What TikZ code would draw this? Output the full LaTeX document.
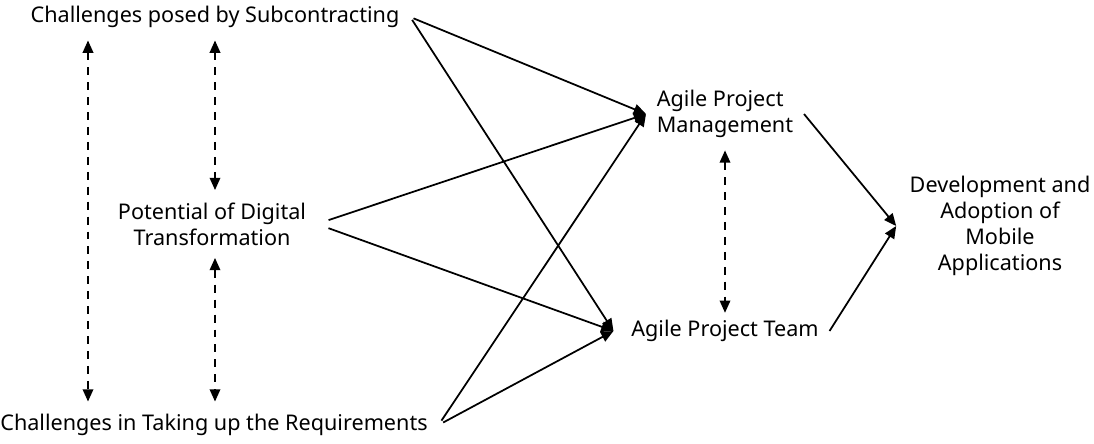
\documentclass[tikz,border=0pt]{standalone}
\usepackage{fontspec}
\setmainfont{Noto Sans}
\usepackage{tikz}
\usetikzlibrary{arrows.meta}

\begin{document}
\begin{tikzpicture}[x=0.02cm, y=-0.02cm]

                % Fixes the page to the full canvas
                \useasboundingbox (0, 0) rectangle (1094, 443);

                \tikzset{
                    factor/.style={font=\fontsize{12.3}{14.7}\selectfont, inner sep=6pt},
                    link/.style={line width=1pt, -{Triangle[length=7pt, width=6pt]}},
                    mutual/.style={line width=1pt, dash pattern=on 4.5pt off 4pt,
                        {Triangle[length=7pt, width=6pt]}-{Triangle[length=7pt, width=6pt]}}
                }

                % Influencing factors on the left
                \node (sub) at (215, 17) [factor] {Challenges posed by Subcontracting};
                \node (pot) at (212, 224) [factor, align=center] {Potential of Digital\\Transformation};
                \node (req) at (214, 425) [factor] {Challenges in Taking up the Requirements};

                % Agile approach in the middle
                \node (apm) at (725, 114) [factor, align=left] {Agile Project\\Management};
                \node (apt) at (725, 331) [factor] {Agile Project Team};

                % Outcome on the right
                \node (dev) at (1000, 226) [factor, align=center, inner sep=7.5pt]
                    {Development and\\Adoption of\\Mobile\\Applications};

                % Mutual relations between the factors
                \begin{scope}[shorten <=1pt, shorten >=1pt]
                    \draw[mutual] (sub.south -| 88, 0) -- (req.north -| 88, 0);
                    \draw[mutual] (sub.south) -- (sub.south |- pot.north);
                    \draw[mutual] (sub.south |- pot.south) -- (sub.south |- req.north);
                    \draw[mutual] (apm.south) -- ([yshift=-3pt]apt.north);
                \end{scope}

                % Influence of each factor on the agile approach
                \draw[link, shorten <=2pt] (sub.east) -- (apm.west);
                \draw[link, shorten <=2pt] (sub.east) -- ([xshift=-4pt]apt.west);
                \draw[link, shorten <=7pt] (pot.east) -- (apm.west);
                \draw[link, shorten <=7pt] (pot.east) -- ([xshift=-4pt]apt.west);
                \draw[link, shorten <=3pt] (req.east) -- (apm.west);
                \draw[link, shorten <=3pt] (req.east) -- ([xshift=-4pt]apt.west);

                \draw[link] (apm.east) -- (dev.west);
                \draw[link] (apt.east) -- (dev.west);

                \end{tikzpicture}
\end{document}
